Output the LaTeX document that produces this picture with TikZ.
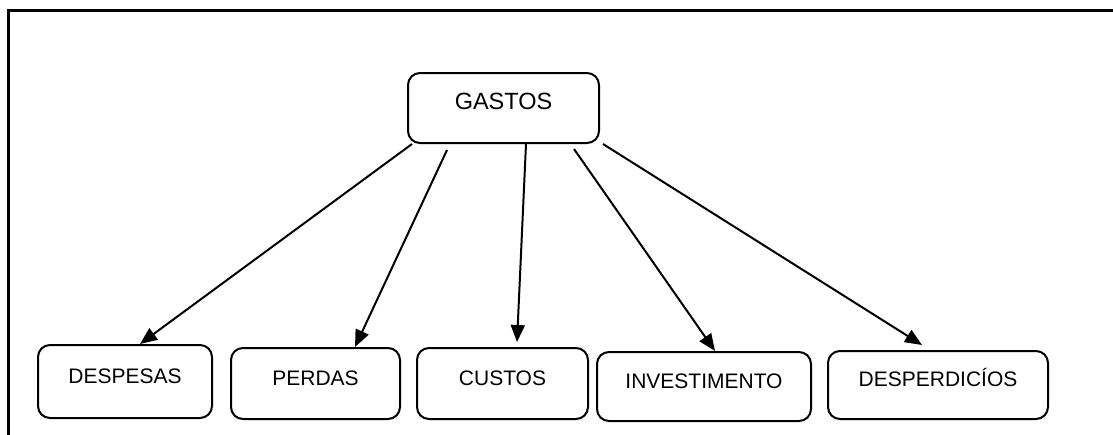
\documentclass[tikz,border=0pt]{standalone}
\usepackage{fontspec}
\setmainfont{Liberation Sans}
\usetikzlibrary{arrows.meta,calc}
\tikzset{
  box/.style={draw, line width=2pt, rounded corners=12pt, inner sep=0pt,
    font=\fontsize{21}{24}\selectfont, text height=15pt, text depth=12pt},
  arr/.style={line width=2pt, -{Triangle[length=17pt,width=14pt]}},
  frame/.style={line width=3pt}
}
\begin{document}
\begin{tikzpicture}[x=1pt,y=-1pt]
\useasboundingbox (0,0) rectangle (1113,434);
\draw[frame] (8,436) -- (8,10) -- (1115,10);
\node[box, minimum width=191pt, minimum height=70pt, font=\fontsize{23.5}{26}\selectfont, text height=17pt, text depth=14pt] (g) at (503.5,108) {GASTOS};
\node[box, minimum width=174pt, minimum height=73pt] (d1) at (125,381.5) {DESPESAS};
\node[box, minimum width=169pt, minimum height=71pt] (d2) at (315.5,383.5) {PERDAS};
\node[box, minimum width=171pt, minimum height=71pt] (d3) at (502.5,383.5) {CUSTOS};
\node[box, minimum width=214pt, minimum height=69pt] (d4) at (704,386.5) {INVESTIMENTO};
\node[box, minimum width=220pt, minimum height=68pt] (d5) at (938,385) {DESPERDICÍOS};
\draw[arr] ([xshift=5pt]g.south west) -- ([xshift=15pt]d1.north);
\draw[arr] ($(g.south)+(-56.5,6)$) -- ([xshift=39.5pt]d2.north);
\draw[arr] ($(g.south)+(22.5,0)$) -- ($(d3.north)+(14.5,-5)$);
\draw[arr] ($(g.south)+(70.5,5)$) -- ([xshift=11pt]d4.north);
\draw[arr] ([xshift=3pt]g.south east) -- ($(d5.north)+(-16,-5)$);
\end{tikzpicture}
\end{document}
